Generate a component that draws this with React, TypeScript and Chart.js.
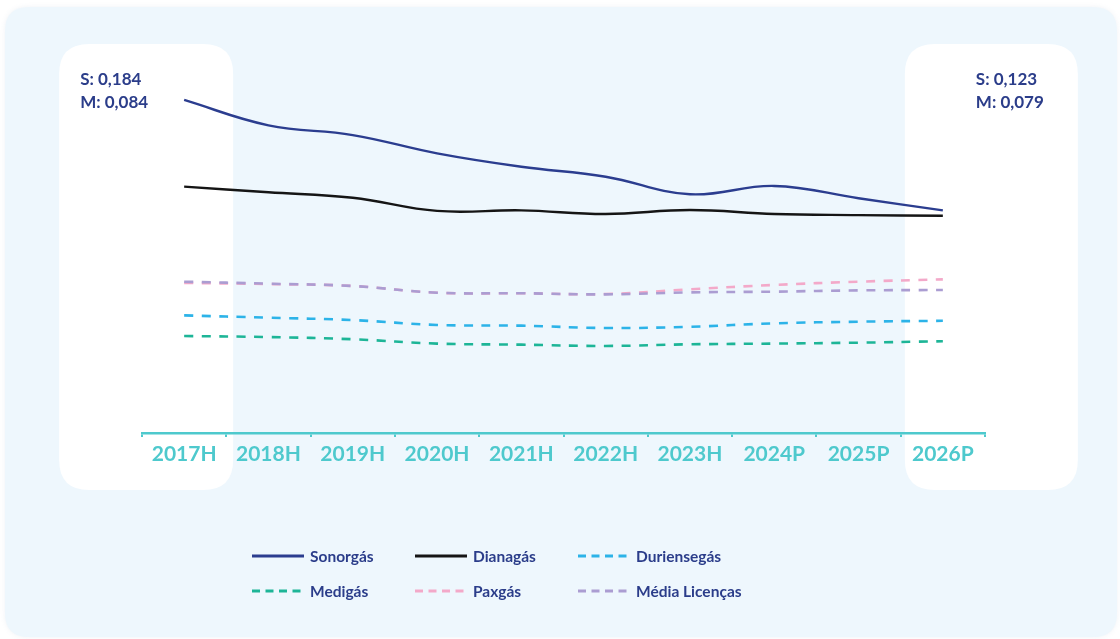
import React, { useEffect, useRef } from "react";
import { Chart, registerables } from "chart.js";

Chart.register(...registerables);

const categories = ["2017H", "2018H", "2019H", "2020H", "2021H", "2022H", "2023H", "2024P", "2025P", "2026P"];

const sonorgas = [0.184, 0.170, 0.1646, 0.1545, 0.1471, 0.1416, 0.1319, 0.1365, 0.1297, 0.123];
const dianagas = [0.1361, 0.133, 0.130, 0.1227, 0.123, 0.121, 0.1232, 0.121, 0.1204, 0.120];
const duriensegas = [0.065, 0.0637, 0.0624, 0.0597, 0.0593, 0.058, 0.0587, 0.0606, 0.0615, 0.062];
const medigas = [0.0536, 0.053, 0.0518, 0.0494, 0.0488, 0.0481, 0.049, 0.0494, 0.0499, 0.0507];
const paxgas = [0.0829, 0.0823, 0.0812, 0.0775, 0.0772, 0.0768, 0.0794, 0.0818, 0.0836, 0.0849];
const mediaLicencas = [0.0836, 0.0825, 0.0812, 0.0775, 0.0772, 0.0766, 0.0777, 0.0781, 0.0788, 0.079];

const seriesNames = ["Sonorgás", "Dianagás", "Duriensegás", "Medigás", "Paxgás", "Média Licenças"];
const seriesColors = ["#2b3d8f", "#151515", "#2cb3e8", "#1db597", "#f3a9c9", "#ab9dd2"];
const seriesDashed = [false, false, true, true, true, true];
const seriesOrder = [0, 0, 0, 0, 1, 0];
const seriesValues = [sonorgas, dianagas, duriensegas, medigas, paxgas, mediaLicencas];

const NAVY = "#2b3d8a";
const TEAL = "#4ec9cd";
const FONT = "Lato, 'Noto Sans', sans-serif";

const fmt = (v: number) => v.toFixed(3).replace(".", ",");

function roundRect(ctx: CanvasRenderingContext2D, x: number, y: number, w: number, h: number, r: number) {
  ctx.beginPath();
  ctx.moveTo(x + r, y);
  ctx.lineTo(x + w - r, y);
  ctx.quadraticCurveTo(x + w, y, x + w, y + r);
  ctx.lineTo(x + w, y + h - r);
  ctx.quadraticCurveTo(x + w, y + h, x + w - r, y + h);
  ctx.lineTo(x + r, y + h);
  ctx.quadraticCurveTo(x, y + h, x, y + h - r);
  ctx.lineTo(x, y + r);
  ctx.quadraticCurveTo(x, y, x + r, y);
  ctx.closePath();
}

const decorPlugin = {
  id: "decor",
  beforeDraw(chart: any) {
    const { ctx, chartArea, scales } = chart;
    const xs = scales.x;
    const p0 = xs.getPixelForValue(0);
    const pN = xs.getPixelForValue(categories.length - 1);
    ctx.save();
    ctx.fillStyle = "#ffffff";
    ctx.fillRect(0, 0, chart.width, chart.height);
    ctx.shadowColor = "rgba(120,150,180,0.12)";
    ctx.shadowBlur = 5;
    roundRect(ctx, 5, 7, chart.width - 8, chart.height - 9, 24);
    ctx.fillStyle = "#eef7fd";
    ctx.fill();
    ctx.shadowColor = "transparent";
    const top = chartArea.top - 27;
    const bottom = chartArea.bottom + 57;
    ctx.fillStyle = "#ffffff";
    roundRect(ctx, p0 - 125, top, 174, bottom - top, 30);
    ctx.fill();
    roundRect(ctx, pN - 38, top, 173, bottom - top, 30);
    ctx.fill();
    ctx.restore();
  },
  afterDraw(chart: any) {
    const { ctx, scales } = chart;
    const xs = scales.x;
    const p0 = xs.getPixelForValue(0);
    const pN = xs.getPixelForValue(categories.length - 1);
    const last = categories.length - 1;
    ctx.save();
    ctx.fillStyle = NAVY;
    ctx.font = `700 17px ${FONT}`;
    ctx.textBaseline = "alphabetic";
    ctx.textAlign = "left";
    ctx.fillText(`S: ${fmt(sonorgas[0])}`, p0 - 104, 85);
    ctx.fillText(`M: ${fmt(mediaLicencas[0])}`, p0 - 104, 108);
    ctx.fillText(`S: ${fmt(sonorgas[last])}`, pN + 33, 85);
    ctx.fillText(`M: ${fmt(mediaLicencas[last])}`, pN + 33, 108);
    ctx.restore();
  },
};

function LegendSwatch({ color, dashed }: { color: string; dashed: boolean }) {
  return (
    <svg width={52} height={6} style={{ display: "block" }}>
      <line
        x1={0}
        y1={3}
        x2={52}
        y2={3}
        stroke={color}
        strokeWidth={3}
        strokeDasharray={dashed ? "8 5.5" : undefined}
      />
    </svg>
  );
}

export default function App() {
  const canvasRef = useRef<HTMLCanvasElement | null>(null);

  useEffect(() => {
    document.body.style.margin = "0";
    const canvas = canvasRef.current;
    if (!canvas) return;
    const chart = new Chart(canvas, {
      type: "line",
      data: {
        labels: categories,
        datasets: seriesNames.map((name, i) => ({
          label: name,
          data: seriesValues[i],
          borderColor: seriesColors[i],
          backgroundColor: seriesColors[i],
          borderWidth: seriesDashed[i] ? 2.6 : 2.4,
          borderDash: seriesDashed[i] ? [9, 8.5] : [],
          pointRadius: 0,
          tension: 0.4,
          fill: false,
          order: seriesOrder[i],
        })),
      },
      options: {
        responsive: false,
        animation: false,
        maintainAspectRatio: false,
        layout: { padding: { left: 142, right: 135, top: 71, bottom: 161 } },
        plugins: {
          legend: { display: false },
          tooltip: { enabled: false },
        },
        scales: {
          x: {
            type: "category",
            offset: true,
            afterFit: (scale: any) => {
              scale.height = 45;
            },
            grid: {
              display: true,
              offset: true,
              drawOnChartArea: false,
              drawTicks: true,
              tickLength: 4,
              color: TEAL,
              lineWidth: 2,
            },
            border: { display: true, color: TEAL, width: 2.5 },
            ticks: {
              color: TEAL,
              padding: 5,
              maxRotation: 0,
              font: { family: FONT, size: 21, weight: "700" as any },
            },
          },
          y: {
            display: false,
            min: 0,
            max: 0.2,
          },
        },
      },
      plugins: [decorPlugin],
    });
    return () => chart.destroy();
  }, []);

  const colX = [252, 415, 578];
  const rowY = [556, 591];

  return (
    <div style={{ position: "fixed", left: 0, top: 0, width: 1120, height: 639 }}>
      <canvas ref={canvasRef} width={1120} height={639} style={{ display: "block" }} />
      {seriesNames.map((name, i) => {
        const col = i % 3;
        const row = Math.floor(i / 3);
        return (
          <div
            key={name}
            style={{
              position: "absolute",
              left: colX[col],
              top: rowY[row] - 10,
              height: 20,
              display: "flex",
              alignItems: "center",
              gap: 6,
              fontFamily: FONT,
              fontWeight: 700,
              fontSize: 15.5,
              color: NAVY,
              whiteSpace: "nowrap",
            }}
          >
            <LegendSwatch color={seriesColors[i]} dashed={seriesDashed[i]} />
            <span>{name}</span>
          </div>
        );
      })}
    </div>
  );
}
